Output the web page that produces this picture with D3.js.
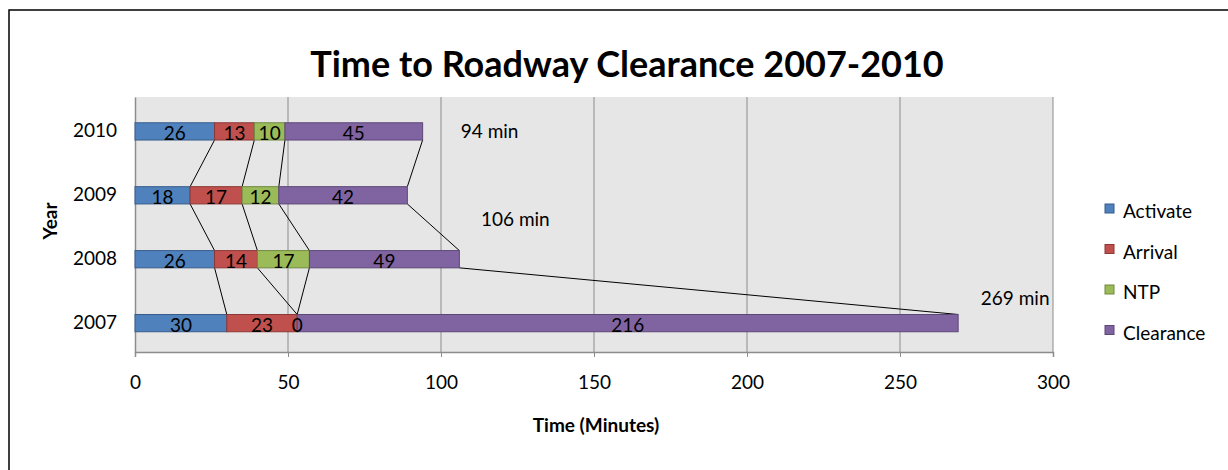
<!DOCTYPE html>
<html>
<head>
<meta charset="utf-8">
<script src="https://cdn.jsdelivr.net/npm/d3@7"></script>
<style>
  body { margin: 0; background: #fff; }
  text { font-family: Lato, "Open Sans", sans-serif; fill: #000; }
</style>
</head>
<body>
<div id="chart"></div>
<script>
// Data
var years = ["2010", "2009", "2008", "2007"];
var seriesNames = ["Activate", "Arrival", "NTP", "Clearance"];
var activate = [26, 18, 26, 30];
var arrival = [13, 17, 14, 23];
var ntp = [10, 12, 17, 0];
var clearance = [45, 42, 49, 216];
var totalLabels = ["94 min", "", "106 min", "269 min"];
var xTicks = [0, 50, 100, 150, 200, 250, 300];

var colors = ["#4f81bd", "#c0504d", "#9bbb59", "#8064a2"];
var strokes = ["#385d8a", "#8c3836", "#71893f", "#5c4776"];

var w = 1228, h = 470;
var plot = { left: 135, right: 1053, top: 97, bottom: 352 };

var svg = d3.select("#chart").append("svg")
    .attr("width", w)
    .attr("height", h);

// outer frame
svg.append("rect")
    .attr("x", 9).attr("y", 10)
    .attr("width", w).attr("height", h)
    .attr("fill", "none")
    .attr("stroke", "#000")
    .attr("stroke-width", 1.5);

// title
svg.append("text")
    .attr("x", 627).attr("y", 77)
    .attr("text-anchor", "middle")
    .style("font-size", "36px")
    .style("font-weight", "bold")
    .text("Time to Roadway Clearance 2007-2010");

// Scales
var x = d3.scaleLinear().domain([0, 300]).range([plot.left, plot.right]);
var y = d3.scaleBand().domain(years).range([plot.top, plot.bottom])
    .paddingInner(0.73).paddingOuter(0.36).align(0.56);

// plot background
svg.append("rect")
    .attr("x", plot.left).attr("y", plot.top)
    .attr("width", plot.right - plot.left)
    .attr("height", plot.bottom - plot.top)
    .attr("fill", "#e6e6e6");

// gridlines
svg.append("g").selectAll("line")
    .data(xTicks.slice(1))
    .enter().append("line")
    .attr("x1", d => x(d)).attr("x2", d => x(d))
    .attr("y1", plot.top).attr("y2", plot.bottom)
    .attr("stroke", "#8c8c8c")
    .attr("stroke-width", 1);

// x axis
var xAxis = svg.append("g")
    .attr("transform", `translate(0, ${plot.bottom})`)
    .call(d3.axisBottom(x).tickValues(xTicks).tickSize(5).tickPadding(19));
xAxis.select(".domain").attr("stroke", "#8c8c8c").attr("stroke-width", 1.5);
xAxis.selectAll(".tick line").attr("stroke", "#8c8c8c");
xAxis.selectAll("text").style("font-size", "19px").attr("fill", "#000");

// y axis
var yAxis = svg.append("g")
    .attr("transform", `translate(${plot.left}, 0)`)
    .call(d3.axisLeft(y).tickSize(0).tickPadding(18));
yAxis.select(".domain").attr("stroke", "#8c8c8c").attr("stroke-width", 1.5);
yAxis.selectAll("text").style("font-size", "19px").attr("fill", "#000");

// axis titles
svg.append("text")
    .attr("x", 596).attr("y", 432)
    .attr("text-anchor", "middle")
    .style("font-size", "19px")
    .style("font-weight", "bold")
    .text("Time (Minutes)");

svg.append("text")
    .attr("transform", "translate(57, 221) rotate(-90)")
    .attr("text-anchor", "middle")
    .style("font-size", "19px")
    .style("font-weight", "bold")
    .text("Year");

// stacked data
var rows = years.map(function(yr, i) {
    return { year: yr, Activate: activate[i], Arrival: arrival[i], NTP: ntp[i], Clearance: clearance[i] };
});
var stacked = d3.stack().keys(seriesNames)(rows);

// series lines between bars (segment ends of one bar to the next bar)
var lineG = svg.append("g");
stacked.forEach(function(layer) {
    for (var i = 0; i < years.length - 1; i++) {
        lineG.append("line")
            .attr("x1", x(layer[i][1]))
            .attr("y1", y(years[i]) + y.bandwidth())
            .attr("x2", x(layer[i + 1][1]))
            .attr("y2", y(years[i + 1]))
            .attr("stroke", "#000")
            .attr("stroke-width", 1);
    }
});

// bars
var groups = svg.append("g").selectAll("g")
    .data(stacked)
    .enter().append("g")
    .attr("fill", (d, i) => colors[i])
    .attr("stroke", (d, i) => strokes[i]);

groups.selectAll("rect")
    .data(d => d)
    .enter().append("rect")
    .attr("x", d => x(d[0]))
    .attr("y", d => y(d.data.year))
    .attr("width", d => x(d[1]) - x(d[0]))
    .attr("height", y.bandwidth())
    .attr("stroke-width", 1);

// segment labels
var labelG = svg.append("g");
stacked.forEach(function(layer) {
    layer.forEach(function(d) {
        labelG.append("text")
            .attr("x", x((d[0] + d[1]) / 2))
            .attr("y", y(d.data.year) + y.bandwidth() / 2 + 9)
            .attr("text-anchor", "middle")
            .style("font-size", "19px")
            .text(d[1] - d[0]);
    });
});

// total labels
var totalOffsets = [[67, 0], [0, 0], [56, -40], [57, -25]];
years.forEach(function(yr, i) {
    if (!totalLabels[i]) return;
    var end = stacked[stacked.length - 1][i][1];
    svg.append("text")
        .attr("x", x(end) + totalOffsets[i][0])
        .attr("y", y(yr) + y.bandwidth() / 2 + 7 + totalOffsets[i][1])
        .attr("text-anchor", "middle")
        .style("font-size", "19px")
        .text(totalLabels[i]);
});

// legend
var legend = svg.append("g").attr("transform", "translate(1105, 204)");
seriesNames.forEach(function(name, i) {
    var g = legend.append("g").attr("transform", `translate(0, ${i * 40.5})`);
    g.append("rect")
        .attr("width", 9).attr("height", 9)
        .attr("fill", colors[i])
        .attr("stroke", strokes[i]);
    g.append("text")
        .attr("x", 18).attr("y", 14)
        .style("font-size", "19px")
        .text(name);
});
</script>
</body>
</html>
